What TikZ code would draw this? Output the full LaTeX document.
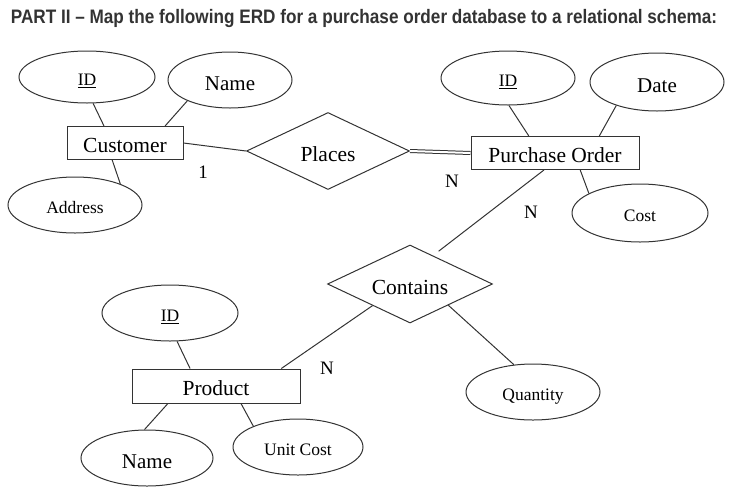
\documentclass[tikz,border=0pt]{standalone}
\usepackage{fontspec}
\setmainfont{Liberation Serif}
\newfontfamily\titlefont[FakeStretch=0.88]{Liberation Sans}
\usepackage{xcolor}
\usepackage{tikz}
\usetikzlibrary{shapes.geometric, positioning}

\definecolor{inkgray}{HTML}{333333}
\definecolor{titlegray}{HTML}{333333}

\begin{document}
\begin{tikzpicture}[x=1pt, y=-1pt, line width=1pt,
    attr/.style={draw=inkgray, ellipse, inner sep=0pt, text height=17pt, text depth=0pt, font=\fontsize{17.5}{20}\selectfont},
    bigattr/.style={attr, text height=20pt, font=\fontsize{21}{24}\selectfont},
    entity/.style={draw=inkgray, rectangle, inner sep=0pt, text height=19pt, text depth=0pt, font=\fontsize{21.5}{24}\selectfont},
    rel/.style={draw=inkgray, diamond, aspect=2, inner sep=0pt, text height=20pt, text depth=0pt, font=\fontsize{21.5}{24}\selectfont},
    card/.style={font=\fontsize{19}{21}\selectfont},
    link/.style={draw=inkgray}]
  \useasboundingbox (0,0) rectangle (743,498);

  \node[anchor=west, text=titlegray, font=\titlefont\bfseries\fontsize{19.5}{22}\selectfont] (title) at (7,18)
    {PART II – Map the following ERD for a purchase order database to a relational schema:};

  % entities
  \node[entity, minimum width=116pt, minimum height=33pt] (cust) at (125,143) {Customer};
  \node[entity, minimum width=168pt, minimum height=33pt] (po) at (555,153) {Purchase Order};
  \node[entity, minimum width=168pt, minimum height=34pt] (prod) at (216,386) {Product};

  % relationships
  \node[rel, minimum width=163pt, minimum height=77pt] (places) at (328,151) {Places};
  \node[rel, minimum width=165pt, minimum height=78pt] (contains) at (410,284) {Contains};

  % attributes
  \node[attr, minimum width=136pt, minimum height=52pt] (custid) at (87,77) {\underline{ID}};
  \node[bigattr, minimum width=124pt, minimum height=56pt] (custname) at (230,80) {Name};
  \node[attr, minimum width=134pt, minimum height=56pt] (addr) at (75,205) {Address};
  \node[attr, minimum width=134pt, minimum height=54pt] (poid) at (508,78) {\underline{ID}};
  \node[bigattr, minimum width=134pt, minimum height=58pt] (date) at (657,82) {Date};
  \node[attr, minimum width=136pt, minimum height=58pt] (cost) at (640,213) {Cost};
  \node[attr, minimum width=136pt, minimum height=56pt] (prodid) at (170,313) {\underline{ID}};
  \node[bigattr, minimum width=132pt, minimum height=56pt] (prodname) at (147,458) {Name};
  \node[attr, minimum width=130pt, minimum height=56pt] (ucost) at (298,447) {Unit Cost};
  \node[attr, minimum width=134pt, minimum height=56pt] (qty) at (533,392) {Quantity};

  % cardinalities
  \node[card] (c1) at (203,172) {1};
  \node[card] (cn1) at (452,181) {N};
  \node[card] (cn2) at (531,212) {N};
  \node[card] (cn3) at (327,368) {N};

  % connectors
  \draw[link] (custid.-77) -- (cust.141);
  \draw[link] (custname.-154) -- (cust.23);
  \draw[link] (cust.233) -- (addr.25);
  \draw[link] (cust.east) -- (places.west);
  \draw[link, double, double distance=2pt] (places.east) -- (po.west);
  \draw[link] (poid.-88) -- (po.147);
  \draw[link] (date.-150) -- (po.21);
  \draw[link] (po.-34) -- (cost.159);
  \draw[link, shorten >=7pt] (po.237) -- (contains.51);
  \draw[link] (contains.210) -- (prod.15);
  \draw[link] (contains.-29) -- (qty.125);
  \draw[link] (prodid.-76) -- (prod.146);
  \draw[link] (prod.200) -- (prodname.95);
  \draw[link] (prod.-35) -- (ucost.155);
\end{tikzpicture}
\end{document}
